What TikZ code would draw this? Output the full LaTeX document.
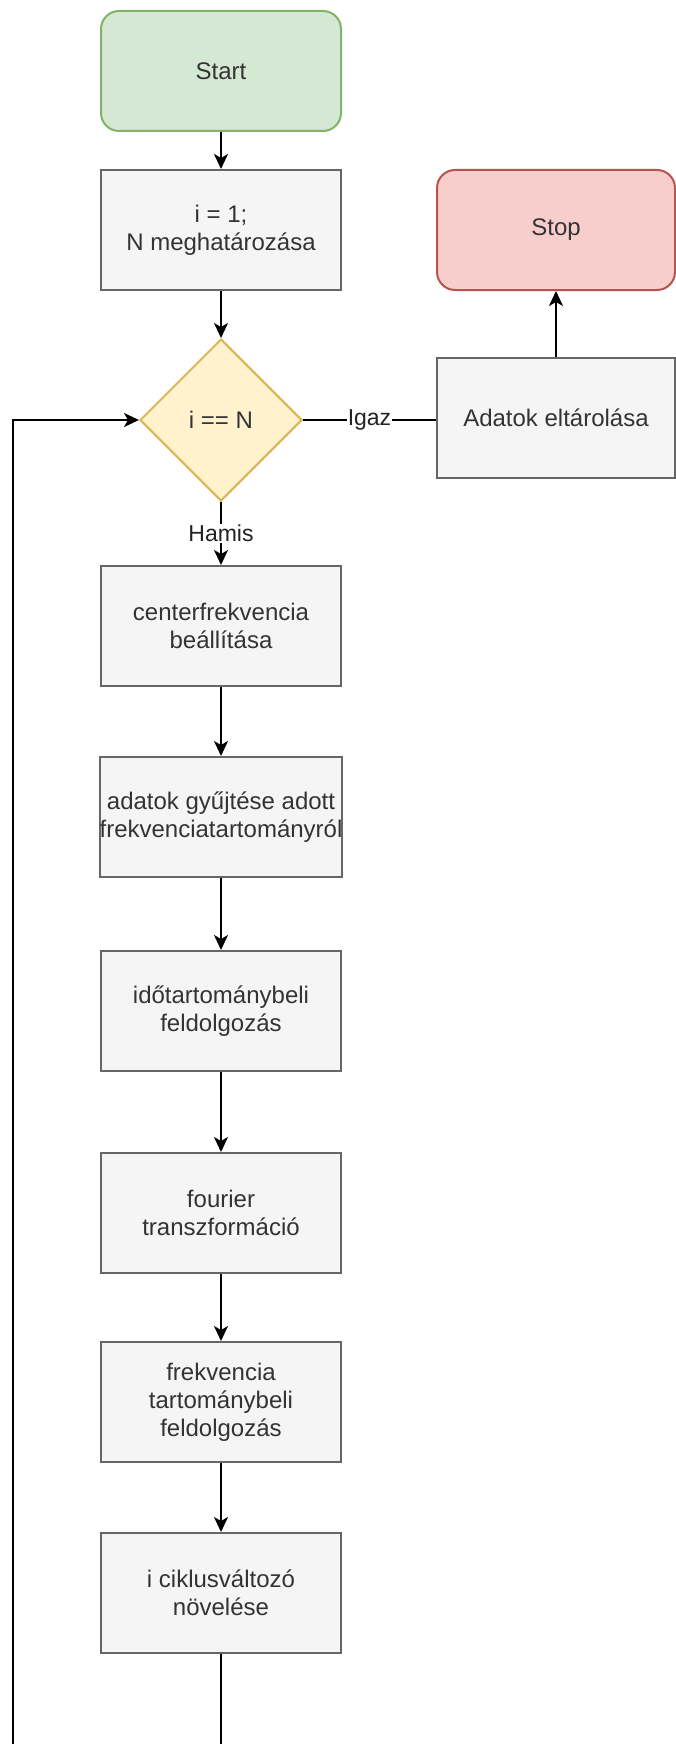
\documentclass[tikz,border=0pt]{standalone}
\usepackage{fontspec}
\setmainfont{Liberation Sans}
\usetikzlibrary{shapes.geometric,arrows.meta}
\definecolor{startfill}{HTML}{D5E8D4}
\definecolor{startline}{HTML}{82B366}
\definecolor{stopfill}{HTML}{F8CECC}
\definecolor{stopline}{HTML}{B85450}
\definecolor{decfill}{HTML}{FFF2CC}
\definecolor{decline}{HTML}{D6B656}
\definecolor{procfill}{HTML}{F5F5F5}
\definecolor{procline}{HTML}{666666}
\definecolor{proctext}{HTML}{333333}
\definecolor{labeltext}{HTML}{222222}
\begin{document}
\begin{tikzpicture}[x=1pt,y=-1pt,
  boxtext/.style={font=\fontsize{24}{28}\selectfont, text=proctext, align=center},
  procbox/.style={boxtext, draw=procline, fill=procfill, line width=2pt,
    minimum width=240pt, minimum height=120pt, inner sep=0pt},
  sidebox/.style={procbox, minimum width=238pt},
  termstart/.style={procbox, draw=startline, fill=startfill, rounded corners=18pt},
  termstop/.style={sidebox, draw=stopline, fill=stopfill, rounded corners=18pt},
  decision/.style={boxtext, diamond, draw=decline, fill=decfill, line width=2pt,
    minimum width=162pt, minimum height=162pt, inner sep=0pt, aspect=1},
  flow/.style={line width=2pt, draw=black, -{Stealth[length=15pt,width=14pt,inset=4pt]}},
  plainflow/.style={line width=2pt, draw=black},
  edgelabel/.style={font=\fontsize{23}{27}\selectfont, fill=white, inner sep=1pt, text=labeltext}
]
\useasboundingbox (0,0) rectangle (676,1744);
\clip (0,0) rectangle (676,1744);

% main column
\node[termstart] (start) at (221,71) {Start};
\node[procbox] (init) at (221,230) {i = 1;\\N meghatározása};
\node[decision] (dec) at (221,420) {i == N};
\node[procbox] (center) at (221,626) {centerfrekvencia\\beállítása};
\node[procbox] (collect) at (221,817) {adatok gyűjtése adott\\frekvenciatartományról};
\node[procbox] (timeproc) at (221,1011) {időtartománybeli\\feldolgozás};
\node[procbox] (fourier) at (221,1213) {fourier\\transzformáció};
\node[procbox] (freqproc) at (221,1402) {frekvencia\\tartománybeli\\feldolgozás};
\node[procbox] (inc) at (221,1593) {i ciklusváltozó\\növelése};

% right column
\node[termstop] (stop) at (556,230) {Stop};
\node[sidebox] (store) at (556,418) {Adatok eltárolása};

% loop-back route (runs below the lower edge)
\coordinate (loopa) at (221,1770);
\coordinate (loopb) at (13,1770);

% connectors
\draw[flow] (start) -- (init);
\draw[flow] (init) -- (dec);
\draw[flow] (dec) -- node[edgelabel]{Hamis} (center);
\draw[flow] (center) -- (collect);
\draw[flow] (collect) -- (timeproc);
\draw[flow] (timeproc) -- (fourier);
\draw[flow] (fourier) -- (freqproc);
\draw[flow] (freqproc) -- (inc);
\draw[plainflow] (dec.east) -- node[edgelabel]{Igaz} (store.west |- dec.east);
\draw[flow] (store) -- (stop);
\draw[flow] (inc) -- (loopa) -- (loopb) |- (dec.west);
\end{tikzpicture}
\end{document}
